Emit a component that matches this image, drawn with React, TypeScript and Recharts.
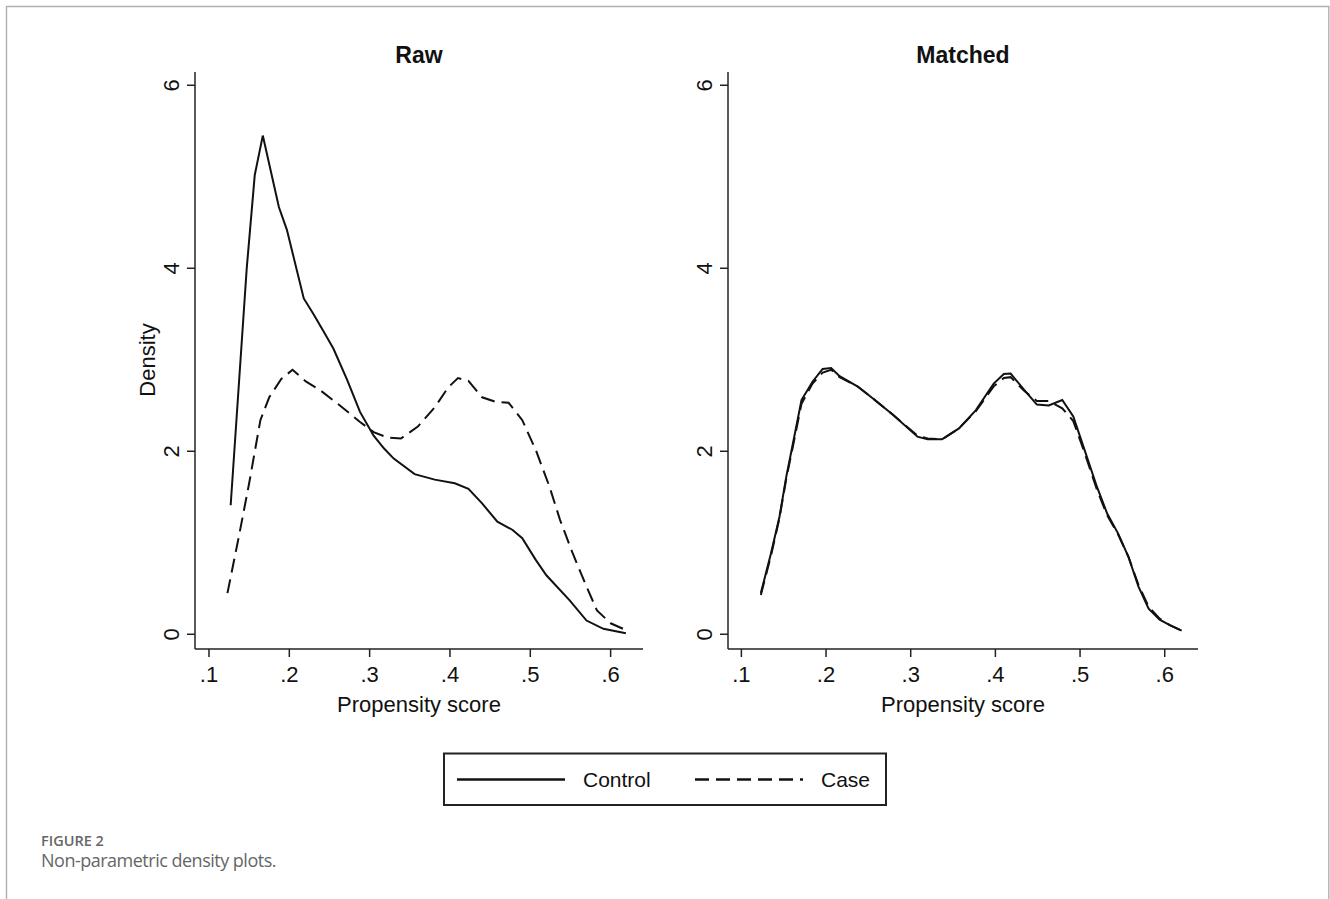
import React from "react";
import { LineChart, Line, XAxis, YAxis } from "recharts";

// density estimates: [propensity score, density]
const rawControl = [
  [0.127, 1.41], [0.147, 4.0], [0.157, 5.02], [0.167, 5.45], [0.187, 4.67],
  [0.197, 4.42], [0.218, 3.67], [0.23, 3.5], [0.242, 3.32], [0.255, 3.12],
  [0.272, 2.78], [0.288, 2.43], [0.305, 2.17], [0.318, 2.03], [0.33, 1.92],
  [0.356, 1.75], [0.381, 1.69], [0.406, 1.65], [0.423, 1.59], [0.44, 1.43],
  [0.459, 1.23], [0.478, 1.14], [0.49, 1.05], [0.507, 0.81], [0.52, 0.645],
  [0.549, 0.37], [0.57, 0.15], [0.591, 0.06], [0.619, 0.01],
];

const rawCase = [
  [0.123, 0.45], [0.137, 1.06], [0.15, 1.65], [0.164, 2.34], [0.175, 2.59],
  [0.19, 2.79], [0.204, 2.89], [0.221, 2.76], [0.238, 2.67], [0.263, 2.5],
  [0.288, 2.32], [0.305, 2.21], [0.322, 2.15], [0.339, 2.14], [0.36, 2.27],
  [0.381, 2.48], [0.398, 2.7], [0.41, 2.8], [0.423, 2.77], [0.44, 2.59],
  [0.457, 2.54], [0.473, 2.53], [0.49, 2.34], [0.507, 2.01], [0.524, 1.61],
  [0.537, 1.25], [0.553, 0.88], [0.57, 0.52], [0.583, 0.26], [0.6, 0.12],
  [0.623, 0.03],
];

const matchedControl = [
  [0.123, 0.45], [0.135, 0.885], [0.145, 1.285], [0.153, 1.72], [0.161, 2.09],
  [0.171, 2.56], [0.184, 2.76], [0.196, 2.9], [0.206, 2.91], [0.216, 2.82],
  [0.237, 2.71], [0.255, 2.58], [0.279, 2.4], [0.308, 2.16], [0.32, 2.13],
  [0.337, 2.13], [0.357, 2.25], [0.377, 2.45], [0.398, 2.74], [0.41, 2.845],
  [0.418, 2.85], [0.434, 2.67], [0.449, 2.51], [0.463, 2.5], [0.479, 2.56],
  [0.492, 2.38], [0.504, 2.05], [0.52, 1.61], [0.532, 1.32], [0.545, 1.1],
  [0.557, 0.85], [0.569, 0.52], [0.581, 0.28], [0.594, 0.16], [0.606, 0.1],
  [0.62, 0.04],
];

const matchedCase = [
  [0.123, 0.43], [0.135, 0.86], [0.145, 1.27], [0.153, 1.7], [0.161, 2.06],
  [0.171, 2.52], [0.184, 2.74], [0.196, 2.86], [0.206, 2.89], [0.216, 2.81],
  [0.237, 2.71], [0.255, 2.58], [0.279, 2.4], [0.308, 2.17], [0.32, 2.14],
  [0.337, 2.13], [0.357, 2.25], [0.377, 2.44], [0.398, 2.71], [0.41, 2.8],
  [0.418, 2.81], [0.434, 2.66], [0.449, 2.55], [0.463, 2.55], [0.479, 2.47],
  [0.492, 2.33], [0.504, 2.02], [0.52, 1.58], [0.532, 1.3], [0.545, 1.09],
  [0.557, 0.85], [0.569, 0.54], [0.581, 0.3], [0.594, 0.17], [0.606, 0.1],
  [0.62, 0.04],
];

const xTicks = [0.1, 0.2, 0.3, 0.4, 0.5, 0.6];
const yTicks = [0, 2, 4, 6];
const panelTitles = ["Raw", "Matched"];
const xLabel = "Propensity score";
const yLabel = "Density";
const seriesNames = ["Control", "Case"];

const toPoints = (arr: number[][]) => arr.map(([x, y]) => ({ x, y }));

const FONT = "'Liberation Sans', Arial, sans-serif";
const AXIS = "#222";
const DASH = "14 7";

const XTick = (props: any) => {
  const { x, y, payload } = props;
  const label = String(payload.value).replace(/^0/, "");
  return (
    <text x={x} y={y} dy={25} textAnchor="middle" fontFamily={FONT} fontSize={22} fill="#111">
      {label}
    </text>
  );
};

const YTick = (props: any) => {
  const { x, y, payload } = props;
  const cx = x - 16;
  return (
    <text
      x={cx}
      y={y}
      dy={8}
      textAnchor="middle"
      transform={`rotate(-90, ${cx}, ${y})`}
      fontFamily={FONT}
      fontSize={22}
      fill="#111"
    >
      {payload.value}
    </text>
  );
};

interface PanelProps {
  left: number;
  width: number;
  yAxisWidth: number;
  rightMargin: number;
  xDomain: [number, number];
  control: number[][];
  caseData: number[][];
}

const Panel = ({ left, width, yAxisWidth, rightMargin, xDomain, control, caseData }: PanelProps) => (
  <div style={{ position: "absolute", left, top: 0 }}>
    <LineChart width={width} height={730} margin={{ top: 72, right: rightMargin, bottom: 0, left: 0 }}>
      <XAxis
        type="number"
        dataKey="x"
        domain={xDomain}
        allowDataOverflow
        ticks={xTicks}
        tick={<XTick />}
        tickSize={8}
        tickMargin={0}
        height={81}
        axisLine={{ stroke: AXIS, strokeWidth: 1.5 }}
        tickLine={{ stroke: AXIS, strokeWidth: 1.5 }}
      />
      <YAxis
        type="number"
        domain={[-0.161, 6.145]}
        allowDataOverflow
        ticks={yTicks}
        tick={<YTick />}
        tickSize={8}
        tickMargin={0}
        width={yAxisWidth}
        axisLine={{ stroke: AXIS, strokeWidth: 1.5 }}
        tickLine={{ stroke: AXIS, strokeWidth: 1.5 }}
      />
      <Line
        data={toPoints(control)}
        dataKey="y"
        type="linear"
        stroke="#111"
        strokeWidth={2}
        dot={false}
        activeDot={false}
        isAnimationActive={false}
      />
      <Line
        data={toPoints(caseData)}
        dataKey="y"
        type="linear"
        stroke="#111"
        strokeWidth={2}
        strokeDasharray={DASH}
        dot={false}
        activeDot={false}
        isAnimationActive={false}
      />
    </LineChart>
  </div>
);

export default function App() {
  return (
    <div style={{ position: "absolute", left: 0, top: 0, width: 1330, height: 899, background: "#fff", overflow: "hidden" }}>
      <Panel
        left={0}
        width={660}
        yAxisWidth={195}
        rightMargin={17}
        xDomain={[0.0826, 0.6403]}
        control={rawControl}
        caseData={rawCase}
      />
      <Panel
        left={660}
        width={560}
        yAxisWidth={68}
        rightMargin={22}
        xDomain={[0.0842, 0.6393]}
        control={matchedControl}
        caseData={matchedCase}
      />
      <svg width={1330} height={899} style={{ position: "absolute", left: 0, top: 0, pointerEvents: "none" }}>
        <path d="M6.5 899 V6.5 H1328.8 V899" fill="none" stroke="#b0b0b0" strokeWidth={1.4} />
        <g fontFamily={FONT} fill="#111">
          <text x={419} y={63} textAnchor="middle" fontSize={23} fontWeight="bold">{panelTitles[0]}</text>
          <text x={963} y={63} textAnchor="middle" fontSize={23} fontWeight="bold">{panelTitles[1]}</text>
          <text x={155} y={360} textAnchor="middle" fontSize={22} transform="rotate(-90, 155, 360)">{yLabel}</text>
          <text x={419} y={712} textAnchor="middle" fontSize={22}>{xLabel}</text>
          <text x={963} y={712} textAnchor="middle" fontSize={22}>{xLabel}</text>
        </g>
        <rect x={444} y={753.5} width={442} height={51.5} fill="#fff" stroke="#222" strokeWidth={2} />
        <line x1={457} x2={565} y1={779.5} y2={779.5} stroke="#111" strokeWidth={2.5} />
        <line x1={695} x2={803} y1={779.5} y2={779.5} stroke="#111" strokeWidth={2.5} strokeDasharray={DASH} />
        <g fontFamily={FONT} fontSize={21} fill="#111">
          <text x={583} y={787}>{seriesNames[0]}</text>
          <text x={821} y={787}>{seriesNames[1]}</text>
        </g>
        <g fontFamily="'Open Sans', 'Noto Sans', sans-serif" fill="#666">
          <text x={41} y={846} fontSize={14.5} fontWeight={600}>FIGURE 2</text>
          <text x={41} y={867} fontSize={18} letterSpacing={-0.5}>Non-parametric density plots.</text>
        </g>
      </svg>
    </div>
  );
}
